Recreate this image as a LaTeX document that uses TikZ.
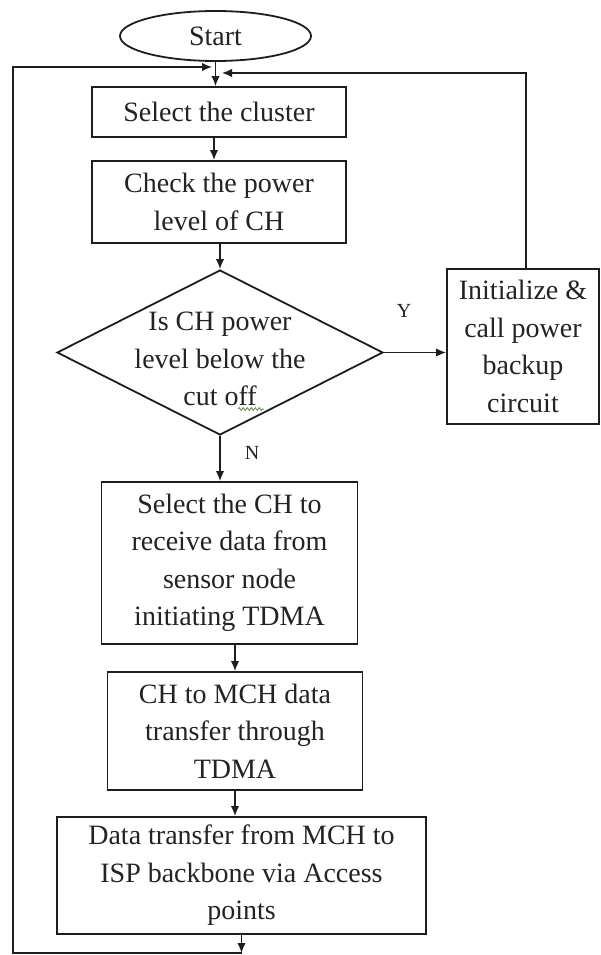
\documentclass[tikz,border=0pt]{standalone}
\usepackage{fontspec}
\setmainfont{Liberation Serif}
\usetikzlibrary{shapes.geometric,arrows.meta,decorations.pathmorphing}
\definecolor{linec}{RGB}{30,30,30}
\definecolor{txtc}{RGB}{35,35,35}
\definecolor{squig}{RGB}{120,150,90}
\newcommand\mytxt{\fontsize{28}{37.5}\selectfont}
\begin{document}
\begin{tikzpicture}[x=1pt,y=-1pt,
  box/.style={draw=linec,line width=1.8pt,inner sep=0pt,align=center,font=\mytxt,text=txtc},
  plain/.style={inner sep=0pt,align=center,font=\mytxt,text=txtc},
  conn/.style={line width=1.6pt,draw=linec,-{Latex[length=10pt,width=8.5pt]}},
  lab/.style={inner sep=0pt,font=\fontsize{20}{24}\selectfont,text=txtc}]
\fill[white] (0,0) rectangle (600,955);
\useasboundingbox (0,0) rectangle (600,955);

\node[box,ellipse,minimum width=191pt,minimum height=50pt] (start) at (215.5,36) {Start};
\node[box,minimum width=254pt,minimum height=50pt] (sel) at (219,112) {Select the cluster};
\node[box,minimum width=254pt,minimum height=82pt] (chk) at (219,202) {Check the power\\level of CH};
\node[box,diamond,minimum width=326pt,minimum height=165pt] (dia) at (220,352.5) {};
\node[plain] (dtext) at (220,359) {Is CH power\\level below the\\cut off};
\node[box,minimum width=152pt,minimum height=155pt] (init) at (523,346.5) {Initialize \&\\call power\\backup\\circuit};
\node[box,minimum width=256pt,minimum height=162pt] (b1) at (229.5,563) {Select the CH to\\receive data from\\sensor node\\initiating TDMA};
\node[box,minimum width=255pt,minimum height=118pt] (b2) at (235,731) {CH to MCH data\\transfer through\\TDMA};
\node[box,minimum width=369pt,minimum height=117pt] (b3) at (241.5,875.5) {Data transfer from MCH to\\ISP backbone via Access\\points};
\node[lab] (ylab) at (404,311) {Y};
\node[lab] (nlab) at (252,453) {N};

\coordinate (bot) at (241.5,953);
\coordinate (lt) at (13,67);
\coordinate (mergeL) at (212,67);
\coordinate (rt) at (526,73);
\coordinate (mergeR) at (222,73);

\draw[conn] (start.south) -- (start.south |- sel.north);
\draw[conn] ([xshift=-5pt]sel.south) -- ([xshift=-5pt]sel.south |- chk.north);
\draw[conn] (dia.north |- chk.south) -- (dia.north);
\draw[conn] (dia.east) -- (dia.east -| init.west);
\draw[conn] (dia.south) -- (dia.south |- b1.north);
\draw[conn] (b1.south -| b2.north) -- (b2.north);
\draw[conn] (b2.south) -- (b2.south |- b3.north);
\draw[conn] (b3.south) -- (bot);
\draw[conn] (bot) -| (lt) -- (mergeL);
\draw[conn] (rt |- init.north) -- (rt) -- (mergeR);

\draw[squig,line width=1pt,decorate,decoration={snake,amplitude=1.3pt,segment length=4pt}] (238,409) -- (264,409);
\end{tikzpicture}
\end{document}
